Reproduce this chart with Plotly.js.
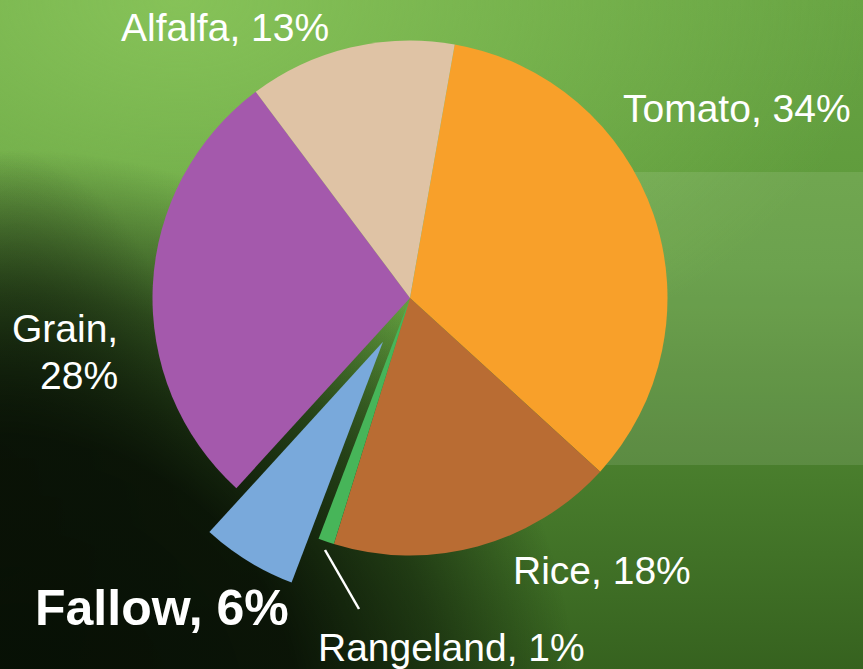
<!DOCTYPE html>
<html>
<head>
<meta charset="utf-8">
<script src="https://cdn.plot.ly/plotly-3.0.1.min.js"></script>
<style>
  html, body { margin:0; padding:0; width:863px; height:669px; overflow:hidden; }
  body {
    background:
      radial-gradient(ellipse 560px 580px at 20px 730px, rgba(7,15,5,1) 0%, rgba(9,18,6,0.97) 50%, rgba(12,24,8,0.6) 75%, rgba(12,24,8,0) 100%),
      radial-gradient(ellipse 200px 330px at 0px 480px, rgba(7,15,5,0.8) 0%, rgba(7,15,5,0) 100%),
      radial-gradient(ellipse 700px 420px at 180px 0px, rgba(134,194,88,1) 0%, rgba(134,194,88,0) 100%),
      linear-gradient(180deg, #68a443 0%, #5c983a 40%, #487c2c 72%, #36621f 100%);
  }
  #chart { position:absolute; left:0; top:-20px; width:863px; height:720px; }
</style>
</head>
<body>
<div id="chart"></div>
<script>
// ---- data ----
const labels = ["Tomato", "Rice", "Rangeland", "Fallow", "Grain", "Alfalfa"];
const values = [34, 18, 1, 6, 28, 13];
const colors = ["#F8A02A", "#B96C33", "#47B559", "#79A9DB", "#A459AC", "#DFC3A5"];
const pulls  = [0, 0, 0, 0.2, 0, 0];

// ---- geometry helpers (image pixels -> paper) ----
const W = 863, H = 720, OFF = 20;
const px = x => x / W;
const py = y => 1 - (y + OFF) / H;

const cx = 410, cy = 298, R = 257.5, maxPull = 0.2;
const half = R * (1 + maxPull);

const trace = {
  type: "pie",
  labels: labels,
  values: values,
  marker: { colors: colors, line: { width: 0 } },
  pull: pulls,
  sort: false,
  direction: "clockwise",
  rotation: 10,
  textinfo: "none",
  hoverinfo: "label+percent",
  showlegend: false,
  domain: { x: [px(cx - half), px(cx + half)], y: [py(cy + half), py(cy - half)] }
};

const lbl = i => labels[i] + ", " + values[i] + "%";
const idx = n => labels.indexOf(n);
const baseFont = { family: "Liberation Sans, Arial, sans-serif", size: 39, color: "#ffffff" };

function ann(text, x, y, xanchor, font) {
  return { text: text, x: px(x), y: py(y), xref: "paper", yref: "paper",
           xanchor: xanchor, yanchor: "middle", showarrow: false,
           font: font || baseFont, align: xanchor };
}

const gi = idx("Grain");
const annotations = [
  ann(lbl(idx("Alfalfa")), 119, 28, "left"),
  ann(lbl(idx("Tomato")), 621, 108, "left"),
  ann(labels[gi] + ",", 120, 328, "right"),
  ann(values[gi] + "%", 120, 375, "right"),
  ann(lbl(idx("Rice")), 511, 570, "left"),
  ann(lbl(idx("Rangeland")), 316, 647, "left"),
  ann("<b>" + lbl(idx("Fallow")) + "</b>", 33, 608, "left",
      { family: "Liberation Sans, Arial, sans-serif", size: 50, color: "#ffffff" })
];

const shapes = [
  { type: "rect", xref: "paper", yref: "paper", layer: "below",
    x0: px(600), x1: px(863), y0: py(465), y1: py(172),
    fillcolor: "rgba(255,255,255,0.10)", line: { width: 0 } },
  { type: "line", xref: "paper", yref: "paper",
    x0: px(325), y0: py(550), x1: px(359), y1: py(609),
    line: { color: "#ffffff", width: 2.5 } }
];

const layout = {
  width: W, height: H,
  margin: { l: 0, r: 0, t: 0, b: 0 },
  paper_bgcolor: "rgba(0,0,0,0)",
  plot_bgcolor: "rgba(0,0,0,0)",
  showlegend: false,
  annotations: annotations,
  shapes: shapes
};

Plotly.newPlot("chart", [trace], layout, { displayModeBar: false, staticPlot: true });
</script>
</body>
</html>
